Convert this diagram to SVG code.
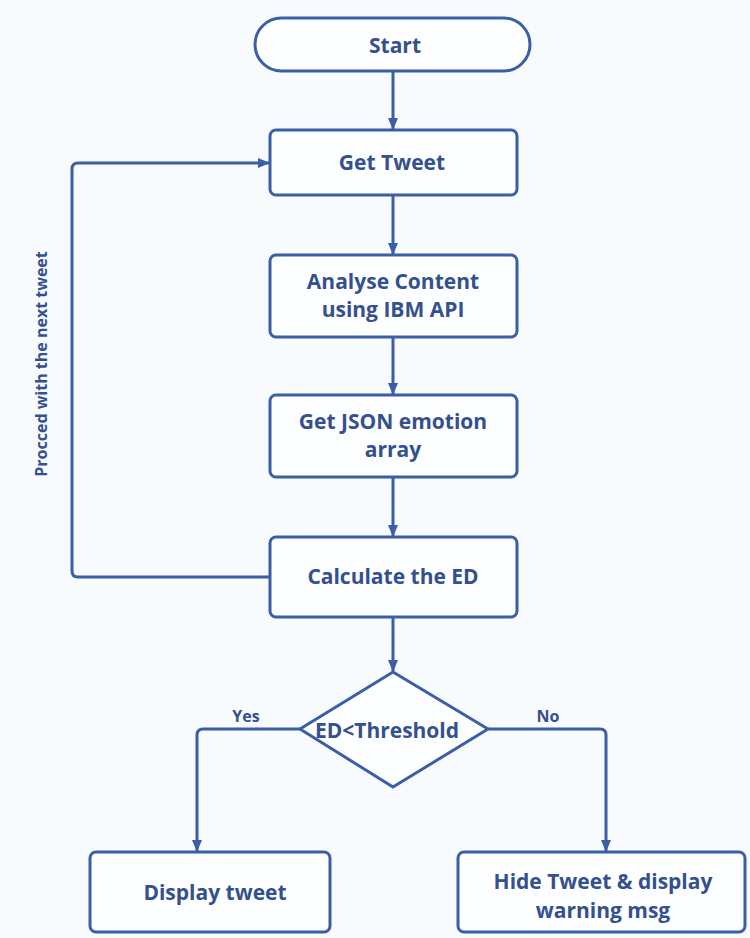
<svg xmlns="http://www.w3.org/2000/svg" width="750" height="938" viewBox="0 0 750 938">
  <style>
    .shape { fill: #fdfeff; stroke: #3b5fa6; stroke-width: 3; }
    .wire { fill: none; stroke: #3b5fa6; stroke-width: 3; }
    .label { font-family: "Open Sans", "Liberation Sans", sans-serif; font-weight: 700; font-size: 21px; fill: #34508e; text-anchor: middle; }
    .small { font-size: 16px; font-weight: 700; }
  </style>
  <defs>
    <marker id="arrow" viewBox="0 0 12 10" refX="11" refY="5" markerWidth="12" markerHeight="10" markerUnits="userSpaceOnUse" orient="auto">
      <path d="M0,0 L12,5 L0,10 Z" fill="#3b5fa6"/>
    </marker>
  </defs>
  <rect width="750" height="938" fill="#f7fbfe"/>

  <g id="connectors">
    <line class="wire" x1="393" y1="71" x2="393" y2="129" marker-end="url(#arrow)"/>
    <line class="wire" x1="393" y1="196" x2="393" y2="254" marker-end="url(#arrow)"/>
    <line class="wire" x1="393" y1="338" x2="393" y2="394" marker-end="url(#arrow)"/>
    <line class="wire" x1="393" y1="478" x2="393" y2="536" marker-end="url(#arrow)"/>
    <line class="wire" x1="393" y1="618" x2="393" y2="671" marker-end="url(#arrow)"/>
    <path class="wire" d="M270,577 H78 Q72,577 72,571 V169 Q72,163 78,163 H269" marker-end="url(#arrow)"/>
    <path class="wire" d="M300,729 H203 Q197,729 197,735 V851" marker-end="url(#arrow)"/>
    <path class="wire" d="M488,729 H600 Q606,729 606,735 V851" marker-end="url(#arrow)"/>
    <text class="label small" transform="translate(47,364) rotate(-90)">Procced with the next tweet</text>
    <text class="label small" x="246" y="722">Yes</text>
    <text class="label small" x="548" y="722">No</text>
  </g>

  <g id="start">
    <rect class="shape" x="255" y="18" width="275" height="53" rx="26.5"/>
    <text class="label" x="395" y="53">Start</text>
  </g>
  <g id="get-tweet">
    <rect class="shape" x="270" y="130" width="247" height="65" rx="6"/>
    <text class="label" x="392" y="170">Get Tweet</text>
  </g>
  <g id="analyse">
    <rect class="shape" x="270" y="255" width="247" height="82" rx="6"/>
    <text class="label" x="393" y="289">Analyse Content</text>
    <text class="label" x="393" y="317">using IBM API</text>
  </g>
  <g id="json">
    <rect class="shape" x="270" y="395" width="247" height="82" rx="6"/>
    <text class="label" x="393" y="429">Get JSON emotion</text>
    <text class="label" x="393" y="457">array</text>
  </g>
  <g id="calculate">
    <rect class="shape" x="270" y="537" width="247" height="80" rx="6"/>
    <text class="label" x="393" y="584">Calculate the ED</text>
  </g>
  <g id="decision">
    <polygon class="shape" points="393,672 488,729 393,787 300,729" stroke-linejoin="round"/>
    <text class="label" x="387" y="738">ED&lt;Threshold</text>
  </g>
  <g id="display">
    <rect class="shape" x="90" y="852" width="240" height="80" rx="6"/>
    <text class="label" x="215" y="900">Display tweet</text>
  </g>
  <g id="hide">
    <rect class="shape" x="458" y="852" width="287" height="80" rx="6"/>
    <text class="label" x="603" y="889">Hide Tweet &amp; display</text>
    <text class="label" x="603" y="918">warning msg</text>
  </g>
</svg>
